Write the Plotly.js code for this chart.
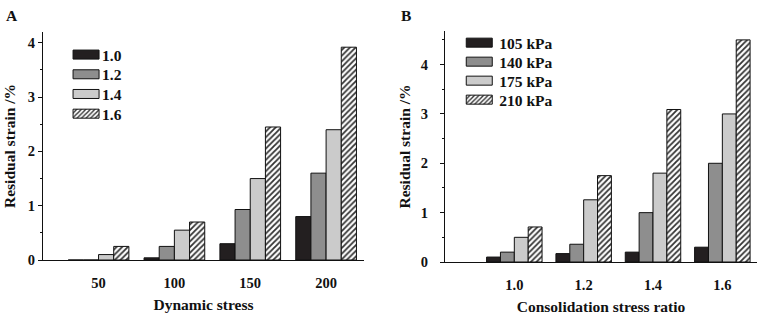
<!DOCTYPE html>
<html><head><meta charset="utf-8">
<script src="https://cdn.plot.ly/plotly-3.0.1.min.js"></script>
<style>html,body{margin:0;padding:0;background:#fff}#chart{width:768px;height:318px}</style>
</head><body><div id="chart"></div>
<script>
// Panel A: residual strain vs dynamic stress, by consolidation stress ratio
const stressCats = [50, 100, 150, 200];
const ratioNames = ['1.0', '1.2', '1.4', '1.6'];
const strainA_10 = [0, 0.04, 0.3, 0.8];
const strainA_12 = [0, 0.25, 0.93, 1.6];
const strainA_14 = [0.1, 0.55, 1.5, 2.4];
const strainA_16 = [0.25, 0.7, 2.45, 3.92];
const boundsA = [25, 75, 125, 175, 225];

// Panel B: residual strain vs consolidation stress ratio, by dynamic stress
const ratioCats = [1.0, 1.2, 1.4, 1.6];
const ratioLabels = ['1.0', '1.2', '1.4', '1.6'];
const stressNames = ['105 kPa', '140 kPa', '175 kPa', '210 kPa'];
const strainB_105 = [0.1, 0.17, 0.2, 0.3];
const strainB_140 = [0.2, 0.36, 1.0, 2.0];
const strainB_175 = [0.5, 1.26, 1.8, 3.0];
const strainB_210 = [0.71, 1.75, 3.09, 4.5];
const boundsB = [0.9, 1.1, 1.3, 1.5, 1.7];

const FONT = 'Liberation Serif, Times New Roman, serif';
const fills = ['#231f20', '#8e8e8e', '#cbcbcb', '#ffffff'];
const line = {color: '#111', width: 1};

function mk(x, y, name, i, xa, ya, lg) {
  const marker = {color: fills[i], line: line};
  if (i === 3) marker.pattern = {shape: '/', fgcolor: '#333', bgcolor: '#fff', size: 4, solidity: 0.45};
  return {type: 'bar', x: x, y: y, name: name, marker: marker, xaxis: xa, yaxis: ya, legend: lg};
}

const seriesA = [strainA_10, strainA_12, strainA_14, strainA_16];
const seriesB = [strainB_105, strainB_140, strainB_175, strainB_210];
const data = [];
seriesA.forEach((s, i) => data.push(mk(stressCats, s, ratioNames[i], i, 'x', 'y', 'legend')));
seriesB.forEach((s, i) => data.push(mk(ratioCats, s, stressNames[i], i, 'x3', 'y2', 'legend2')));

const tf = {family: FONT, size: 14.5, color: '#111', weight: 'bold'};
const ttl = {family: FONT, size: 15.5, color: '#111', weight: 'bold'};
const lf = {family: FONT, size: 15.5, color: '#111', weight: 'bold'};
const domA = [0.056, 0.474], domB = [0.5794, 0.9857];
const yDomA = [0.1824, 0.8994], yDomB = [0.1761, 0.9025];

const layout = {
  width: 768, height: 318,
  margin: {l: 0, r: 0, t: 0, b: 0},
  paper_bgcolor: '#fff', plot_bgcolor: '#fff',
  barmode: 'group', bargap: 0.2, bargroupgap: 0,
  font: tf,
  xaxis: {domain: domA, anchor: 'y', range: [13.4, 225], tickvals: stressCats, ticks: '',
          ticklabelstandoff: 10,
          showline: true, linecolor: '#111', linewidth: 1, showgrid: false, zeroline: false,
          tickfont: tf, title: {text: 'Dynamic stress', font: ttl, standoff: 8}},
  xaxis2: {domain: domA, anchor: 'y', overlaying: 'x', range: [13.4, 225], tickvals: boundsA,
           ticks: 'outside', ticklen: 4, tickcolor: '#111', showticklabels: false,
           showline: false, showgrid: false, zeroline: false},
  yaxis: {domain: yDomA, anchor: 'x', range: [0, 4.2], dtick: 1, ticks: 'outside', ticklen: 4,
          tickcolor: '#111', showline: true, linecolor: '#111', showgrid: false, zeroline: false,
          minor: {dtick: 0.5, ticks: 'outside', ticklen: 2, tickcolor: '#111', showgrid: false},
          tickfont: tf, title: {text: 'Residual strain /%', font: ttl, standoff: 8}},
  xaxis3: {domain: domB, anchor: 'y2', range: [0.8, 1.7], tickvals: ratioCats, ticktext: ratioLabels, ticks: '',
           ticklabelstandoff: 10,
           showline: true, linecolor: '#111', linewidth: 1, showgrid: false, zeroline: false,
           tickfont: tf, title: {text: 'Consolidation stress ratio', font: ttl, standoff: 8}},
  xaxis4: {domain: domB, anchor: 'y2', overlaying: 'x3', range: [0.8, 1.7], tickvals: boundsB,
           ticks: 'outside', ticklen: 4, tickcolor: '#111', showticklabels: false,
           showline: false, showgrid: false, zeroline: false},
  yaxis2: {domain: yDomB, anchor: 'x3', range: [0, 4.68], dtick: 1, ticks: 'outside', ticklen: 4,
           ticklabelstandoff: 9,
           tickcolor: '#111', showline: true, linecolor: '#111', showgrid: false, zeroline: false,
           minor: {dtick: 0.5, ticks: 'outside', ticklen: 2, tickcolor: '#111', showgrid: false},
           tickfont: tf, title: {text: 'Residual strain /%', font: ttl, standoff: 6}},
  legend: {x: 0.086, y: 0.8805, xanchor: 'left', yanchor: 'top', bgcolor: 'rgba(0,0,0,0)',
           font: lf, tracegroupgap: 0, traceorder: 'normal'},
  legend2: {x: 0.598, y: 0.918, xanchor: 'left', yanchor: 'top', bgcolor: 'rgba(0,0,0,0)',
            font: lf, tracegroupgap: 0, traceorder: 'normal'},
  showlegend: true,
  annotations: [
    {text: 'A', x: 12 / 768, y: 1 - 16 / 318, xref: 'paper', yref: 'paper', showarrow: false,
     xanchor: 'center', yanchor: 'middle', font: ttl},
    {text: 'B', x: 406 / 768, y: 1 - 16 / 318, xref: 'paper', yref: 'paper', showarrow: false,
     xanchor: 'center', yanchor: 'middle', font: ttl}
  ]
};

const rowGap = {legend: 19.7, legend2: 19};
Plotly.newPlot('chart', data, layout, {staticPlot: true}).then(gd => {
  gd.querySelectorAll('.legendpoints path').forEach(p => p.setAttribute('d', 'M13,4.5H-13V-4.5H13Z'));
  gd.querySelectorAll('.legendtext').forEach(t => t.setAttribute('x', 36));
  ['legend', 'legend2'].forEach(cls => {
    const lg = gd.querySelector('g.' + cls);
    if (!lg) return;
    const items = lg.querySelectorAll('g.traces');
    let y0 = null;
    items.forEach((it, i) => {
      const m = /translate\(([-\d.]+),\s*([-\d.]+)\)/.exec(it.getAttribute('transform') || '');
      if (!m) return;
      if (y0 === null) y0 = parseFloat(m[2]);
      it.setAttribute('transform', 'translate(' + m[1] + ',' + (y0 + i * rowGap[cls]) + ')');
    });
  });
});
</script>
</body></html>
